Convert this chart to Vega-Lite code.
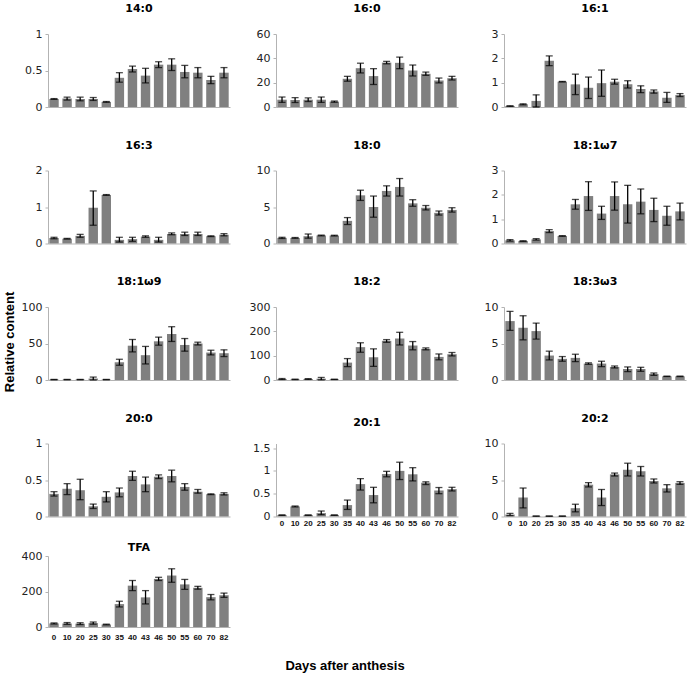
{
  "$schema": "https://vega.github.io/schema/vega-lite/v6.json",
  "padding": {"left": 4, "top": 3, "right": 5, "bottom": 5},
  "datasets": {
    "fa": [
      {"fa":"14:0","day":0,"mean":0.11,"lo":0.105,"hi":0.115},
      {"fa":"14:0","day":10,"mean":0.115,"lo":0.095,"hi":0.135},
      {"fa":"14:0","day":20,"mean":0.11,"lo":0.085,"hi":0.135},
      {"fa":"14:0","day":25,"mean":0.11,"lo":0.09,"hi":0.13},
      {"fa":"14:0","day":30,"mean":0.07,"lo":0.065,"hi":0.075},
      {"fa":"14:0","day":35,"mean":0.40,"lo":0.34,"hi":0.47},
      {"fa":"14:0","day":40,"mean":0.52,"lo":0.48,"hi":0.56},
      {"fa":"14:0","day":43,"mean":0.43,"lo":0.33,"hi":0.53},
      {"fa":"14:0","day":46,"mean":0.58,"lo":0.54,"hi":0.62},
      {"fa":"14:0","day":50,"mean":0.58,"lo":0.50,"hi":0.66},
      {"fa":"14:0","day":55,"mean":0.48,"lo":0.40,"hi":0.57},
      {"fa":"14:0","day":60,"mean":0.47,"lo":0.40,"hi":0.54},
      {"fa":"14:0","day":70,"mean":0.37,"lo":0.32,"hi":0.42},
      {"fa":"14:0","day":82,"mean":0.47,"lo":0.40,"hi":0.54},
      {"fa":"16:0","day":0,"mean":6.0,"lo":3.8,"hi":8.2},
      {"fa":"16:0","day":10,"mean":5.7,"lo":3.7,"hi":7.7},
      {"fa":"16:0","day":20,"mean":6.0,"lo":4.5,"hi":7.5},
      {"fa":"16:0","day":25,"mean":6.0,"lo":3.8,"hi":8.2},
      {"fa":"16:0","day":30,"mean":4.4,"lo":3.9,"hi":4.9},
      {"fa":"16:0","day":35,"mean":23.2,"lo":21.2,"hi":25.2},
      {"fa":"16:0","day":40,"mean":31.9,"lo":28.0,"hi":36.0},
      {"fa":"16:0","day":43,"mean":25.4,"lo":18.5,"hi":31.5},
      {"fa":"16:0","day":46,"mean":36.5,"lo":35.5,"hi":37.5},
      {"fa":"16:0","day":50,"mean":36.3,"lo":31.5,"hi":41.0},
      {"fa":"16:0","day":55,"mean":30.0,"lo":25.5,"hi":34.5},
      {"fa":"16:0","day":60,"mean":27.3,"lo":26.0,"hi":28.7},
      {"fa":"16:0","day":70,"mean":21.8,"lo":19.8,"hi":23.8},
      {"fa":"16:0","day":82,"mean":23.7,"lo":22.2,"hi":25.2},
      {"fa":"16:1","day":0,"mean":0.04,"lo":0.03,"hi":0.05},
      {"fa":"16:1","day":10,"mean":0.11,"lo":0.09,"hi":0.13},
      {"fa":"16:1","day":20,"mean":0.25,"lo":0.0,"hi":0.5},
      {"fa":"16:1","day":25,"mean":1.9,"lo":1.7,"hi":2.1},
      {"fa":"16:1","day":30,"mean":1.04,"lo":1.03,"hi":1.05},
      {"fa":"16:1","day":35,"mean":0.93,"lo":0.51,"hi":1.35},
      {"fa":"16:1","day":40,"mean":0.79,"lo":0.35,"hi":1.23},
      {"fa":"16:1","day":43,"mean":0.98,"lo":0.44,"hi":1.52},
      {"fa":"16:1","day":46,"mean":1.04,"lo":0.94,"hi":1.14},
      {"fa":"16:1","day":50,"mean":0.93,"lo":0.78,"hi":1.08},
      {"fa":"16:1","day":55,"mean":0.74,"lo":0.59,"hi":0.87},
      {"fa":"16:1","day":60,"mean":0.64,"lo":0.57,"hi":0.70},
      {"fa":"16:1","day":70,"mean":0.38,"lo":0.19,"hi":0.60},
      {"fa":"16:1","day":82,"mean":0.49,"lo":0.43,"hi":0.55},
      {"fa":"16:3","day":0,"mean":0.15,"lo":0.13,"hi":0.17},
      {"fa":"16:3","day":10,"mean":0.13,"lo":0.12,"hi":0.14},
      {"fa":"16:3","day":20,"mean":0.21,"lo":0.17,"hi":0.25},
      {"fa":"16:3","day":25,"mean":0.98,"lo":0.5,"hi":1.44},
      {"fa":"16:3","day":30,"mean":1.33,"lo":1.32,"hi":1.34},
      {"fa":"16:3","day":35,"mean":0.10,"lo":0.04,"hi":0.17},
      {"fa":"16:3","day":40,"mean":0.12,"lo":0.06,"hi":0.17},
      {"fa":"16:3","day":43,"mean":0.19,"lo":0.17,"hi":0.21},
      {"fa":"16:3","day":46,"mean":0.10,"lo":0.04,"hi":0.17},
      {"fa":"16:3","day":50,"mean":0.26,"lo":0.24,"hi":0.29},
      {"fa":"16:3","day":55,"mean":0.26,"lo":0.22,"hi":0.31},
      {"fa":"16:3","day":60,"mean":0.26,"lo":0.22,"hi":0.31},
      {"fa":"16:3","day":70,"mean":0.20,"lo":0.19,"hi":0.21},
      {"fa":"16:3","day":82,"mean":0.24,"lo":0.21,"hi":0.27},
      {"fa":"18:0","day":0,"mean":0.77,"lo":0.69,"hi":0.85},
      {"fa":"18:0","day":10,"mean":0.77,"lo":0.72,"hi":0.82},
      {"fa":"18:0","day":20,"mean":1.0,"lo":0.73,"hi":1.30},
      {"fa":"18:0","day":25,"mean":1.1,"lo":1.05,"hi":1.15},
      {"fa":"18:0","day":30,"mean":1.08,"lo":1.03,"hi":1.13},
      {"fa":"18:0","day":35,"mean":3.1,"lo":2.6,"hi":3.55},
      {"fa":"18:0","day":40,"mean":6.6,"lo":5.9,"hi":7.3},
      {"fa":"18:0","day":43,"mean":5.0,"lo":3.6,"hi":6.5},
      {"fa":"18:0","day":46,"mean":7.2,"lo":6.5,"hi":7.9},
      {"fa":"18:0","day":50,"mean":7.75,"lo":6.5,"hi":8.9},
      {"fa":"18:0","day":55,"mean":5.5,"lo":5.1,"hi":6.0},
      {"fa":"18:0","day":60,"mean":4.9,"lo":4.6,"hi":5.2},
      {"fa":"18:0","day":70,"mean":4.2,"lo":3.9,"hi":4.45},
      {"fa":"18:0","day":82,"mean":4.6,"lo":4.3,"hi":4.9},
      {"fa":"18:1ω7","day":0,"mean":0.13,"lo":0.10,"hi":0.16},
      {"fa":"18:1ω7","day":10,"mean":0.10,"lo":0.09,"hi":0.11},
      {"fa":"18:1ω7","day":20,"mean":0.17,"lo":0.14,"hi":0.20},
      {"fa":"18:1ω7","day":25,"mean":0.51,"lo":0.45,"hi":0.57},
      {"fa":"18:1ω7","day":30,"mean":0.31,"lo":0.30,"hi":0.32},
      {"fa":"18:1ω7","day":35,"mean":1.61,"lo":1.41,"hi":1.81},
      {"fa":"18:1ω7","day":40,"mean":1.95,"lo":1.36,"hi":2.54},
      {"fa":"18:1ω7","day":43,"mean":1.23,"lo":0.99,"hi":1.53},
      {"fa":"18:1ω7","day":46,"mean":1.95,"lo":1.37,"hi":2.53},
      {"fa":"18:1ω7","day":50,"mean":1.61,"lo":0.84,"hi":2.39},
      {"fa":"18:1ω7","day":55,"mean":1.72,"lo":1.22,"hi":2.24},
      {"fa":"18:1ω7","day":60,"mean":1.38,"lo":0.90,"hi":1.86},
      {"fa":"18:1ω7","day":70,"mean":1.14,"lo":0.75,"hi":1.53},
      {"fa":"18:1ω7","day":82,"mean":1.32,"lo":0.97,"hi":1.66},
      {"fa":"18:1ω9","day":0,"mean":0.5,"lo":0.3,"hi":0.8},
      {"fa":"18:1ω9","day":10,"mean":0.5,"lo":0.3,"hi":0.8},
      {"fa":"18:1ω9","day":20,"mean":0.5,"lo":0.3,"hi":0.8},
      {"fa":"18:1ω9","day":25,"mean":2.0,"lo":0.0,"hi":4.0},
      {"fa":"18:1ω9","day":30,"mean":0.5,"lo":0.3,"hi":0.8},
      {"fa":"18:1ω9","day":35,"mean":24.3,"lo":20.2,"hi":28.4},
      {"fa":"18:1ω9","day":40,"mean":47,"lo":38.5,"hi":55.5},
      {"fa":"18:1ω9","day":43,"mean":34,"lo":22,"hi":46},
      {"fa":"18:1ω9","day":46,"mean":53,"lo":47.7,"hi":58.7},
      {"fa":"18:1ω9","day":50,"mean":63,"lo":52.8,"hi":73},
      {"fa":"18:1ω9","day":55,"mean":48,"lo":39.5,"hi":56.8},
      {"fa":"18:1ω9","day":60,"mean":50,"lo":48,"hi":51.8},
      {"fa":"18:1ω9","day":70,"mean":37.6,"lo":34.4,"hi":40.8},
      {"fa":"18:1ω9","day":82,"mean":36.7,"lo":32.1,"hi":41.3},
      {"fa":"18:2","day":0,"mean":4,"lo":2,"hi":6},
      {"fa":"18:2","day":10,"mean":2.5,"lo":1.5,"hi":3.5},
      {"fa":"18:2","day":20,"mean":4,"lo":2.5,"hi":5.5},
      {"fa":"18:2","day":25,"mean":5.5,"lo":0.5,"hi":10.5},
      {"fa":"18:2","day":30,"mean":2.5,"lo":2,"hi":3},
      {"fa":"18:2","day":35,"mean":71.5,"lo":55,"hi":88},
      {"fa":"18:2","day":40,"mean":135,"lo":114,"hi":153},
      {"fa":"18:2","day":43,"mean":93.5,"lo":56,"hi":128},
      {"fa":"18:2","day":46,"mean":161,"lo":155,"hi":166},
      {"fa":"18:2","day":50,"mean":170.5,"lo":144,"hi":196},
      {"fa":"18:2","day":55,"mean":141.7,"lo":124,"hi":158},
      {"fa":"18:2","day":60,"mean":128,"lo":124,"hi":132},
      {"fa":"18:2","day":70,"mean":95,"lo":83,"hi":107},
      {"fa":"18:2","day":82,"mean":106,"lo":99,"hi":113},
      {"fa":"18:3ω3","day":0,"mean":8.07,"lo":6.8,"hi":9.4},
      {"fa":"18:3ω3","day":10,"mean":7.16,"lo":5.5,"hi":8.8},
      {"fa":"18:3ω3","day":20,"mean":6.7,"lo":5.6,"hi":7.8},
      {"fa":"18:3ω3","day":25,"mean":3.35,"lo":2.75,"hi":3.95},
      {"fa":"18:3ω3","day":30,"mean":2.9,"lo":2.57,"hi":3.21},
      {"fa":"18:3ω3","day":35,"mean":3.03,"lo":2.52,"hi":3.53},
      {"fa":"18:3ω3","day":40,"mean":2.25,"lo":2.15,"hi":2.35},
      {"fa":"18:3ω3","day":43,"mean":2.25,"lo":1.83,"hi":2.57},
      {"fa":"18:3ω3","day":46,"mean":1.79,"lo":1.65,"hi":1.92},
      {"fa":"18:3ω3","day":50,"mean":1.51,"lo":1.15,"hi":1.79},
      {"fa":"18:3ω3","day":55,"mean":1.51,"lo":1.19,"hi":1.74},
      {"fa":"18:3ω3","day":60,"mean":0.83,"lo":0.64,"hi":0.96},
      {"fa":"18:3ω3","day":70,"mean":0.5,"lo":0.48,"hi":0.52},
      {"fa":"18:3ω3","day":82,"mean":0.5,"lo":0.47,"hi":0.53},
      {"fa":"20:0","day":0,"mean":0.31,"lo":0.28,"hi":0.34},
      {"fa":"20:0","day":10,"mean":0.38,"lo":0.30,"hi":0.45},
      {"fa":"20:0","day":20,"mean":0.36,"lo":0.23,"hi":0.51},
      {"fa":"20:0","day":25,"mean":0.14,"lo":0.11,"hi":0.17},
      {"fa":"20:0","day":30,"mean":0.27,"lo":0.20,"hi":0.34},
      {"fa":"20:0","day":35,"mean":0.33,"lo":0.27,"hi":0.39},
      {"fa":"20:0","day":40,"mean":0.555,"lo":0.495,"hi":0.62},
      {"fa":"20:0","day":43,"mean":0.44,"lo":0.34,"hi":0.54},
      {"fa":"20:0","day":46,"mean":0.545,"lo":0.52,"hi":0.57},
      {"fa":"20:0","day":50,"mean":0.555,"lo":0.475,"hi":0.635},
      {"fa":"20:0","day":55,"mean":0.405,"lo":0.36,"hi":0.45},
      {"fa":"20:0","day":60,"mean":0.34,"lo":0.32,"hi":0.37},
      {"fa":"20:0","day":70,"mean":0.305,"lo":0.30,"hi":0.31},
      {"fa":"20:0","day":82,"mean":0.31,"lo":0.295,"hi":0.325},
      {"fa":"20:1","day":0,"mean":0.03,"lo":0.025,"hi":0.035},
      {"fa":"20:1","day":10,"mean":0.22,"lo":0.21,"hi":0.23},
      {"fa":"20:1","day":20,"mean":0.03,"lo":0.025,"hi":0.035},
      {"fa":"20:1","day":25,"mean":0.075,"lo":0.04,"hi":0.12},
      {"fa":"20:1","day":30,"mean":0.03,"lo":0.025,"hi":0.035},
      {"fa":"20:1","day":35,"mean":0.25,"lo":0.155,"hi":0.36},
      {"fa":"20:1","day":40,"mean":0.71,"lo":0.58,"hi":0.83},
      {"fa":"20:1","day":43,"mean":0.47,"lo":0.30,"hi":0.64},
      {"fa":"20:1","day":46,"mean":0.93,"lo":0.87,"hi":0.99},
      {"fa":"20:1","day":50,"mean":1.0,"lo":0.81,"hi":1.19},
      {"fa":"20:1","day":55,"mean":0.925,"lo":0.78,"hi":1.07},
      {"fa":"20:1","day":60,"mean":0.74,"lo":0.70,"hi":0.76},
      {"fa":"20:1","day":70,"mean":0.57,"lo":0.50,"hi":0.635},
      {"fa":"20:1","day":82,"mean":0.60,"lo":0.56,"hi":0.64},
      {"fa":"20:2","day":0,"mean":0.27,"lo":0.12,"hi":0.42},
      {"fa":"20:2","day":10,"mean":2.6,"lo":1.18,"hi":3.9},
      {"fa":"20:2","day":20,"mean":0.05,"lo":0.04,"hi":0.06},
      {"fa":"20:2","day":25,"mean":0.05,"lo":0.04,"hi":0.06},
      {"fa":"20:2","day":30,"mean":0.05,"lo":0.04,"hi":0.06},
      {"fa":"20:2","day":35,"mean":1.14,"lo":0.64,"hi":1.68},
      {"fa":"20:2","day":40,"mean":4.36,"lo":4.05,"hi":4.64},
      {"fa":"20:2","day":43,"mean":2.6,"lo":1.5,"hi":3.7},
      {"fa":"20:2","day":46,"mean":5.77,"lo":5.55,"hi":5.95},
      {"fa":"20:2","day":50,"mean":6.4,"lo":5.55,"hi":7.3},
      {"fa":"20:2","day":55,"mean":6.2,"lo":5.55,"hi":6.85},
      {"fa":"20:2","day":60,"mean":4.86,"lo":4.59,"hi":5.14},
      {"fa":"20:2","day":70,"mean":3.86,"lo":3.36,"hi":4.36},
      {"fa":"20:2","day":82,"mean":4.6,"lo":4.4,"hi":4.77},
      {"fa":"TFA","day":0,"mean":20,"lo":17,"hi":23},
      {"fa":"TFA","day":10,"mean":20,"lo":15,"hi":25},
      {"fa":"TFA","day":20,"mean":19,"lo":14,"hi":24},
      {"fa":"TFA","day":25,"mean":22,"lo":16,"hi":28},
      {"fa":"TFA","day":30,"mean":14,"lo":12,"hi":16},
      {"fa":"TFA","day":35,"mean":129,"lo":113,"hi":145},
      {"fa":"TFA","day":40,"mean":233,"lo":205,"hi":262},
      {"fa":"TFA","day":43,"mean":167,"lo":130,"hi":205},
      {"fa":"TFA","day":46,"mean":271,"lo":262,"hi":280},
      {"fa":"TFA","day":50,"mean":290,"lo":252,"hi":328},
      {"fa":"TFA","day":55,"mean":240,"lo":212,"hi":268},
      {"fa":"TFA","day":60,"mean":221,"lo":213,"hi":229},
      {"fa":"TFA","day":70,"mean":168,"lo":153,"hi":183},
      {"fa":"TFA","day":82,"mean":179,"lo":167,"hi":191}
    ]
  },
  "data": {"name": "fa"},
  "config": {
    "view": {"stroke": null},
    "font": "DejaVu Sans",
    "axis": {"grid": false, "domainColor": "#b3b3b3", "tickColor": "#b3b3b3", "labelColor": "#222222", "labelFont": "DejaVu Sans", "labelFontSize": 11},
    "axisX": {"ticks": false, "labelAngle": 0, "labelFont": "Liberation Sans", "labelFontWeight": "bold", "labelFontSize": 8, "labelPadding": 3, "labelColor": "#111111"},
    "axisY": {"tickSize": 3, "labelPadding": 3, "labelOverlap": false, "labelFlush": false, "minExtent": 0},
    "bar": {"color": "#808080"},
    "rule": {"color": "#000000", "strokeWidth": 1.3},
    "tick": {"color": "#000000", "thickness": 1.3, "size": 7, "orient": "horizontal"},
    "title": {"font": "DejaVu Sans", "fontSize": 11, "fontWeight": "bold", "color": "#000000", "offset": 14, "baseline": "bottom"}
  },
  "title": {"text": "Days after anthesis", "orient": "bottom", "anchor": "middle", "font": "Liberation Sans", "fontSize": 13, "fontWeight": "bold", "offset": 19, "baseline": "top"},
  "vconcat": [
    {
      "title": {"text": "Relative content", "orient": "left", "anchor": "middle", "font": "Liberation Sans", "fontSize": 13, "fontWeight": "bold", "offset": -9, "baseline": "bottom", "dx": -20},
      "spacing": 14,
      "vconcat": [
        {
          "columns": 3,
          "spacing": {"row": 63.5, "column": 46},
          "bounds": "flush",
          "concat": [
            {"title": "14:0", "width": 182, "height": 73, "transform": [{"filter": "datum.fa === '14:0'"}],
             "encoding": {"x": {"field": "day", "type": "ordinal", "title": null, "scale": {"paddingInner": 0.28, "paddingOuter": 0.1}, "axis": {"labels": false}}},
             "layer": [
               {"mark": "bar", "encoding": {"y": {"field": "mean", "type": "quantitative", "title": null, "scale": {"domain": [0, 1]}, "axis": {"values": [0, 0.5, 1], "format": ".1~f"}}}},
               {"mark": "rule", "encoding": {"y": {"field": "lo", "type": "quantitative", "title": null, "axis": {"values": [0, 0.5, 1], "format": ".1~f"}}, "y2": {"field": "hi"}}},
               {"mark": "tick", "encoding": {"y": {"field": "lo", "type": "quantitative", "title": null, "axis": {"values": [0, 0.5, 1], "format": ".1~f"}}}},
               {"mark": "tick", "encoding": {"y": {"field": "hi", "type": "quantitative", "title": null, "axis": {"values": [0, 0.5, 1], "format": ".1~f"}}}}
             ]},
            {"title": "16:0", "width": 182, "height": 73, "transform": [{"filter": "datum.fa === '16:0'"}],
             "encoding": {"x": {"field": "day", "type": "ordinal", "title": null, "scale": {"paddingInner": 0.28, "paddingOuter": 0.1}, "axis": {"labels": false}}},
             "layer": [
               {"mark": "bar", "encoding": {"y": {"field": "mean", "type": "quantitative", "title": null, "scale": {"domain": [0, 60]}, "axis": {"values": [0, 20, 40, 60], "format": ".1~f"}}}},
               {"mark": "rule", "encoding": {"y": {"field": "lo", "type": "quantitative", "title": null, "axis": {"values": [0, 20, 40, 60], "format": ".1~f"}}, "y2": {"field": "hi"}}},
               {"mark": "tick", "encoding": {"y": {"field": "lo", "type": "quantitative", "title": null, "axis": {"values": [0, 20, 40, 60], "format": ".1~f"}}}},
               {"mark": "tick", "encoding": {"y": {"field": "hi", "type": "quantitative", "title": null, "axis": {"values": [0, 20, 40, 60], "format": ".1~f"}}}}
             ]},
            {"title": "16:1", "width": 182, "height": 73, "transform": [{"filter": "datum.fa === '16:1'"}],
             "encoding": {"x": {"field": "day", "type": "ordinal", "title": null, "scale": {"paddingInner": 0.28, "paddingOuter": 0.1}, "axis": {"labels": false}}},
             "layer": [
               {"mark": "bar", "encoding": {"y": {"field": "mean", "type": "quantitative", "title": null, "scale": {"domain": [0, 3]}, "axis": {"values": [0, 1, 2, 3], "format": ".1~f"}}}},
               {"mark": "rule", "encoding": {"y": {"field": "lo", "type": "quantitative", "title": null, "axis": {"values": [0, 1, 2, 3], "format": ".1~f"}}, "y2": {"field": "hi"}}},
               {"mark": "tick", "encoding": {"y": {"field": "lo", "type": "quantitative", "title": null, "axis": {"values": [0, 1, 2, 3], "format": ".1~f"}}}},
               {"mark": "tick", "encoding": {"y": {"field": "hi", "type": "quantitative", "title": null, "axis": {"values": [0, 1, 2, 3], "format": ".1~f"}}}}
             ]},
            {"title": "16:3", "width": 182, "height": 73, "transform": [{"filter": "datum.fa === '16:3'"}],
             "encoding": {"x": {"field": "day", "type": "ordinal", "title": null, "scale": {"paddingInner": 0.28, "paddingOuter": 0.1}, "axis": {"labels": false}}},
             "layer": [
               {"mark": "bar", "encoding": {"y": {"field": "mean", "type": "quantitative", "title": null, "scale": {"domain": [0, 2]}, "axis": {"values": [0, 1, 2], "format": ".1~f"}}}},
               {"mark": "rule", "encoding": {"y": {"field": "lo", "type": "quantitative", "title": null, "axis": {"values": [0, 1, 2], "format": ".1~f"}}, "y2": {"field": "hi"}}},
               {"mark": "tick", "encoding": {"y": {"field": "lo", "type": "quantitative", "title": null, "axis": {"values": [0, 1, 2], "format": ".1~f"}}}},
               {"mark": "tick", "encoding": {"y": {"field": "hi", "type": "quantitative", "title": null, "axis": {"values": [0, 1, 2], "format": ".1~f"}}}}
             ]},
            {"title": "18:0", "width": 182, "height": 73, "transform": [{"filter": "datum.fa === '18:0'"}],
             "encoding": {"x": {"field": "day", "type": "ordinal", "title": null, "scale": {"paddingInner": 0.28, "paddingOuter": 0.1}, "axis": {"labels": false}}},
             "layer": [
               {"mark": "bar", "encoding": {"y": {"field": "mean", "type": "quantitative", "title": null, "scale": {"domain": [0, 10]}, "axis": {"values": [0, 5, 10], "format": ".1~f"}}}},
               {"mark": "rule", "encoding": {"y": {"field": "lo", "type": "quantitative", "title": null, "axis": {"values": [0, 5, 10], "format": ".1~f"}}, "y2": {"field": "hi"}}},
               {"mark": "tick", "encoding": {"y": {"field": "lo", "type": "quantitative", "title": null, "axis": {"values": [0, 5, 10], "format": ".1~f"}}}},
               {"mark": "tick", "encoding": {"y": {"field": "hi", "type": "quantitative", "title": null, "axis": {"values": [0, 5, 10], "format": ".1~f"}}}}
             ]},
            {"title": "18:1ω7", "width": 182, "height": 73, "transform": [{"filter": "datum.fa === '18:1ω7'"}],
             "encoding": {"x": {"field": "day", "type": "ordinal", "title": null, "scale": {"paddingInner": 0.28, "paddingOuter": 0.1}, "axis": {"labels": false}}},
             "layer": [
               {"mark": "bar", "encoding": {"y": {"field": "mean", "type": "quantitative", "title": null, "scale": {"domain": [0, 3]}, "axis": {"values": [0, 1, 2, 3], "format": ".1~f"}}}},
               {"mark": "rule", "encoding": {"y": {"field": "lo", "type": "quantitative", "title": null, "axis": {"values": [0, 1, 2, 3], "format": ".1~f"}}, "y2": {"field": "hi"}}},
               {"mark": "tick", "encoding": {"y": {"field": "lo", "type": "quantitative", "title": null, "axis": {"values": [0, 1, 2, 3], "format": ".1~f"}}}},
               {"mark": "tick", "encoding": {"y": {"field": "hi", "type": "quantitative", "title": null, "axis": {"values": [0, 1, 2, 3], "format": ".1~f"}}}}
             ]},
            {"title": "18:1ω9", "width": 182, "height": 73, "transform": [{"filter": "datum.fa === '18:1ω9'"}],
             "encoding": {"x": {"field": "day", "type": "ordinal", "title": null, "scale": {"paddingInner": 0.28, "paddingOuter": 0.1}, "axis": {"labels": false}}},
             "layer": [
               {"mark": "bar", "encoding": {"y": {"field": "mean", "type": "quantitative", "title": null, "scale": {"domain": [0, 100]}, "axis": {"values": [0, 50, 100], "format": ".1~f"}}}},
               {"mark": "rule", "encoding": {"y": {"field": "lo", "type": "quantitative", "title": null, "axis": {"values": [0, 50, 100], "format": ".1~f"}}, "y2": {"field": "hi"}}},
               {"mark": "tick", "encoding": {"y": {"field": "lo", "type": "quantitative", "title": null, "axis": {"values": [0, 50, 100], "format": ".1~f"}}}},
               {"mark": "tick", "encoding": {"y": {"field": "hi", "type": "quantitative", "title": null, "axis": {"values": [0, 50, 100], "format": ".1~f"}}}}
             ]},
            {"title": "18:2", "width": 182, "height": 73, "transform": [{"filter": "datum.fa === '18:2'"}],
             "encoding": {"x": {"field": "day", "type": "ordinal", "title": null, "scale": {"paddingInner": 0.28, "paddingOuter": 0.1}, "axis": {"labels": false}}},
             "layer": [
               {"mark": "bar", "encoding": {"y": {"field": "mean", "type": "quantitative", "title": null, "scale": {"domain": [0, 300]}, "axis": {"values": [0, 100, 200, 300], "format": ".1~f"}}}},
               {"mark": "rule", "encoding": {"y": {"field": "lo", "type": "quantitative", "title": null, "axis": {"values": [0, 100, 200, 300], "format": ".1~f"}}, "y2": {"field": "hi"}}},
               {"mark": "tick", "encoding": {"y": {"field": "lo", "type": "quantitative", "title": null, "axis": {"values": [0, 100, 200, 300], "format": ".1~f"}}}},
               {"mark": "tick", "encoding": {"y": {"field": "hi", "type": "quantitative", "title": null, "axis": {"values": [0, 100, 200, 300], "format": ".1~f"}}}}
             ]},
            {"title": "18:3ω3", "width": 182, "height": 73, "transform": [{"filter": "datum.fa === '18:3ω3'"}],
             "encoding": {"x": {"field": "day", "type": "ordinal", "title": null, "scale": {"paddingInner": 0.28, "paddingOuter": 0.1}, "axis": {"labels": false}}},
             "layer": [
               {"mark": "bar", "encoding": {"y": {"field": "mean", "type": "quantitative", "title": null, "scale": {"domain": [0, 10]}, "axis": {"values": [0, 5, 10], "format": ".1~f"}}}},
               {"mark": "rule", "encoding": {"y": {"field": "lo", "type": "quantitative", "title": null, "axis": {"values": [0, 5, 10], "format": ".1~f"}}, "y2": {"field": "hi"}}},
               {"mark": "tick", "encoding": {"y": {"field": "lo", "type": "quantitative", "title": null, "axis": {"values": [0, 5, 10], "format": ".1~f"}}}},
               {"mark": "tick", "encoding": {"y": {"field": "hi", "type": "quantitative", "title": null, "axis": {"values": [0, 5, 10], "format": ".1~f"}}}}
             ]},
            {"title": "20:0", "width": 182, "height": 73, "transform": [{"filter": "datum.fa === '20:0'"}],
             "encoding": {"x": {"field": "day", "type": "ordinal", "title": null, "scale": {"paddingInner": 0.28, "paddingOuter": 0.1}, "axis": {"labels": false}}},
             "layer": [
               {"mark": "bar", "encoding": {"y": {"field": "mean", "type": "quantitative", "title": null, "scale": {"domain": [0, 1]}, "axis": {"values": [0, 0.5, 1], "format": ".1~f"}}}},
               {"mark": "rule", "encoding": {"y": {"field": "lo", "type": "quantitative", "title": null, "axis": {"values": [0, 0.5, 1], "format": ".1~f"}}, "y2": {"field": "hi"}}},
               {"mark": "tick", "encoding": {"y": {"field": "lo", "type": "quantitative", "title": null, "axis": {"values": [0, 0.5, 1], "format": ".1~f"}}}},
               {"mark": "tick", "encoding": {"y": {"field": "hi", "type": "quantitative", "title": null, "axis": {"values": [0, 0.5, 1], "format": ".1~f"}}}}
             ]},
            {"title": "20:1", "width": 182, "height": 73, "transform": [{"filter": "datum.fa === '20:1'"}],
             "encoding": {"x": {"field": "day", "type": "ordinal", "title": null, "scale": {"paddingInner": 0.28, "paddingOuter": 0.1}, "axis": {"labels": true}}},
             "layer": [
               {"mark": "bar", "encoding": {"y": {"field": "mean", "type": "quantitative", "title": null, "scale": {"domain": [0, 1.5]}, "axis": {"values": [0, 0.5, 1, 1.5], "format": ".1~f"}}}},
               {"mark": "rule", "encoding": {"y": {"field": "lo", "type": "quantitative", "title": null, "axis": {"values": [0, 0.5, 1, 1.5], "format": ".1~f"}}, "y2": {"field": "hi"}}},
               {"mark": "tick", "encoding": {"y": {"field": "lo", "type": "quantitative", "title": null, "axis": {"values": [0, 0.5, 1, 1.5], "format": ".1~f"}}}},
               {"mark": "tick", "encoding": {"y": {"field": "hi", "type": "quantitative", "title": null, "axis": {"values": [0, 0.5, 1, 1.5], "format": ".1~f"}}}}
             ]},
            {"title": "20:2", "width": 182, "height": 73, "transform": [{"filter": "datum.fa === '20:2'"}],
             "encoding": {"x": {"field": "day", "type": "ordinal", "title": null, "scale": {"paddingInner": 0.28, "paddingOuter": 0.1}, "axis": {"labels": true}}},
             "layer": [
               {"mark": "bar", "encoding": {"y": {"field": "mean", "type": "quantitative", "title": null, "scale": {"domain": [0, 10]}, "axis": {"values": [0, 5, 10], "format": ".1~f"}}}},
               {"mark": "rule", "encoding": {"y": {"field": "lo", "type": "quantitative", "title": null, "axis": {"values": [0, 5, 10], "format": ".1~f"}}, "y2": {"field": "hi"}}},
               {"mark": "tick", "encoding": {"y": {"field": "lo", "type": "quantitative", "title": null, "axis": {"values": [0, 5, 10], "format": ".1~f"}}}},
               {"mark": "tick", "encoding": {"y": {"field": "hi", "type": "quantitative", "title": null, "axis": {"values": [0, 5, 10], "format": ".1~f"}}}}
             ]}
          ]
        },
        {"title": {"text": "TFA", "offset": -3}, "width": 182, "height": 71, "transform": [{"filter": "datum.fa === 'TFA'"}],
         "encoding": {"x": {"field": "day", "type": "ordinal", "title": null, "scale": {"paddingInner": 0.28, "paddingOuter": 0.1}, "axis": {"labels": true, "labelPadding": 6}}},
         "layer": [
           {"mark": "bar", "encoding": {"y": {"field": "mean", "type": "quantitative", "title": null, "scale": {"domain": [0, 400]}, "axis": {"values": [0, 200, 400], "format": ".1~f"}}}},
           {"mark": "rule", "encoding": {"y": {"field": "lo", "type": "quantitative", "title": null, "axis": {"values": [0, 200, 400], "format": ".1~f"}}, "y2": {"field": "hi"}}},
           {"mark": "tick", "encoding": {"y": {"field": "lo", "type": "quantitative", "title": null, "axis": {"values": [0, 200, 400], "format": ".1~f"}}}},
           {"mark": "tick", "encoding": {"y": {"field": "hi", "type": "quantitative", "title": null, "axis": {"values": [0, 200, 400], "format": ".1~f"}}}}
         ]}
      ]
    }
  ]
}
